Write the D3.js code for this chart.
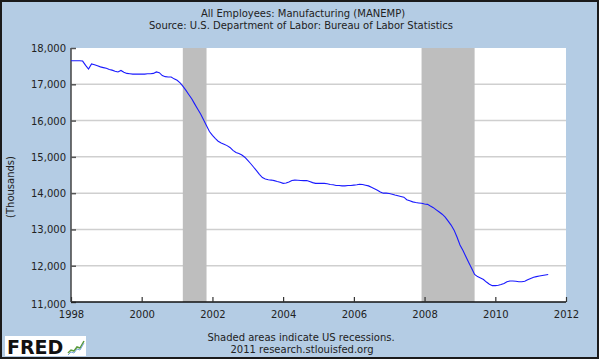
<!DOCTYPE html>
<html><head><meta charset="utf-8">
<script src="https://cdn.jsdelivr.net/npm/d3@7"></script>
<style>html,body{margin:0;padding:0;background:#fff}svg{display:block}text{font-family:"DejaVu Sans",Verdana,sans-serif}</style>
</head><body>
<svg id="c" width="599" height="359"></svg>
<script>
const title = "All Employees: Manufacturing (MANEMP)";
const subtitle = "Source: U.S. Department of Labor: Bureau of Labor Statistics";
const yLabel = "(Thousands)";
const footer1 = "Shaded areas indicate US recessions.";
const footer2 = "2011 research.stlouisfed.org";
const yTicks = [11000,12000,13000,14000,15000,16000,17000,18000];
const xTicks = [1998,2000,2002,2004,2006,2008,2010,2012];
const recessions = [["2001-03","2001-11"],["2007-12","2009-06"]];
const startMonth = "1998-01";
const values = [
 17650,17650,17650,17650,17640,17520,17420,17560,17540,17510,17480,17460,
 17440,17410,17390,17360,17340,17380,17330,17300,17290,17280,17280,17285,
 17280,17280,17290,17290,17300,17340,17320,17240,17210,17200,17200,17150,
 17110,17040,16950,16840,16720,16600,16460,16320,16180,16020,15860,15700,
 15590,15500,15430,15380,15350,15310,15260,15180,15120,15090,15050,14990,
 14900,14810,14720,14620,14520,14430,14390,14370,14360,14345,14320,14300,
 14270,14280,14310,14350,14360,14355,14350,14345,14350,14320,14290,14270,
 14270,14270,14270,14260,14240,14230,14210,14210,14200,14200,14210,14210,
 14220,14230,14245,14240,14220,14200,14160,14120,14080,14030,14000,14000,
 13990,13970,13950,13930,13910,13890,13820,13790,13760,13740,13730,13720,
 13700,13690,13645,13600,13540,13480,13420,13340,13230,13120,12980,12790,
 12570,12420,12260,12090,11930,11760,11700,11660,11620,11550,11490,11450,
 11450,11460,11480,11510,11560,11580,11580,11570,11560,11560,11570,11610,
 11650,11680,11700,11715,11730,11745,11760
];

const parse = d3.timeParse("%Y-%m");
const t0 = parse(startMonth);
const data = values.map((v,i)=>({date:d3.timeMonth.offset(t0,i), v}));

const svg = d3.select("#c");
const W=599,H=359;
const L=71,R=566,T=48,B=302;

svg.append("rect").attr("x",0).attr("y",0).attr("width",W).attr("height",H).attr("fill","#1a1a1a");
svg.append("rect").attr("x",2).attr("y",2).attr("width",W-4).attr("height",H-4).attr("fill","#b4cce4");

const x = d3.scaleTime().domain([new Date(1998,0,1), new Date(2012,0,1)]).range([L,R]);
const y = d3.scaleLinear().domain([11000,18000]).range([B,T]);

svg.append("rect").attr("x",L).attr("y",T).attr("width",R-L).attr("height",B-T).attr("fill","#fff");

// gridlines
svg.append("g").selectAll("line").data(yTicks.slice(1,-1)).join("line")
  .attr("x1",L).attr("x2",R).attr("y1",d=>y(d)).attr("y2",d=>y(d))
  .attr("stroke","#cfcfcf").attr("stroke-width",1.5);

// recessions
svg.append("g").selectAll("rect").data(recessions).join("rect")
  .attr("x",d=>x(parse(d[0]))).attr("width",d=>x(parse(d[1]))-x(parse(d[0])))
  .attr("y",T).attr("height",B-T).attr("fill","#bebebe");

// y axis
const ya = svg.append("g").attr("transform",`translate(${L},0)`)
  .call(d3.axisRight(y).tickValues(yTicks).tickSize(5).tickFormat(d3.format(",")));
ya.select(".domain").attr("stroke","#444").attr("stroke-width",1.5).attr("d",`M0,${T}V${B}`);
ya.selectAll(".tick line").attr("stroke","#555").attr("stroke-width",1.5);
ya.selectAll(".tick text").attr("x",-5).attr("text-anchor","end").attr("dy","0.35em")
  .attr("font-size",10).attr("fill","#222").attr("font-family","DejaVu Sans");
ya.selectAll(".tick").filter(d=>d===11000).select("text").attr("dy","0.55em");

// x axis
const xa = svg.append("g").attr("transform",`translate(0,${B})`)
  .call(d3.axisTop(x).tickValues(xTicks.map(d=>new Date(d,0,1))).tickSize(5).tickFormat(d3.timeFormat("%Y")));
xa.select(".domain").attr("stroke","#111").attr("stroke-width",1.5).attr("d",`M${L},0H${R}`);
xa.selectAll(".tick line").attr("stroke","#333").attr("stroke-width",1.2);
xa.selectAll(".tick text").attr("y",16).attr("dy",0)
  .attr("font-size",10).attr("fill","#222").attr("font-family","DejaVu Sans");

// line
svg.append("path").datum(data)
  .attr("d",d3.line().x(d=>x(d.date)).y(d=>y(d.v)))
  .attr("fill","none").attr("stroke","#1a1aff").attr("stroke-width",1.1);

// titles
svg.append("text").attr("x",303).attr("y",17).attr("text-anchor","middle").attr("font-size",10).attr("fill","#222").text(title);
svg.append("text").attr("x",301).attr("y",29).attr("text-anchor","middle").attr("font-size",10).attr("fill","#222").text(subtitle);
svg.append("text").attr("transform","translate(14,187) rotate(-90)").attr("text-anchor","middle").attr("font-size",10).attr("fill","#222").text(yLabel);
svg.append("text").attr("x",301).attr("y",341).attr("text-anchor","middle").attr("font-size",10).attr("fill","#222").text(footer1);
svg.append("text").attr("x",302).attr("y",353).attr("text-anchor","middle").attr("font-size",10).attr("fill","#222").text(footer2);

// FRED logo
const lg = svg.append("g");
lg.append("rect").attr("x",5).attr("y",336).attr("width",81).attr("height",20).attr("fill","#fff");
lg.append("text").attr("x",7).attr("y",354).attr("font-size",19).attr("font-weight","bold").attr("font-family","Liberation Sans, Arial, sans-serif").attr("fill","#111").text("FRED");
const icon = [[68,353],[71,350],[74,351],[77,347],[80,348],[84,341]];
lg.append("path").attr("d",d3.line()(icon)).attr("fill","none").attr("stroke","#5a9a3a").attr("stroke-width",1.5);
lg.append("path").attr("d",d3.line()(icon.map(p=>[p[0],p[1]+2]))).attr("fill","none").attr("stroke","#7aa7d8").attr("stroke-width",1);
</script>
</body></html>
